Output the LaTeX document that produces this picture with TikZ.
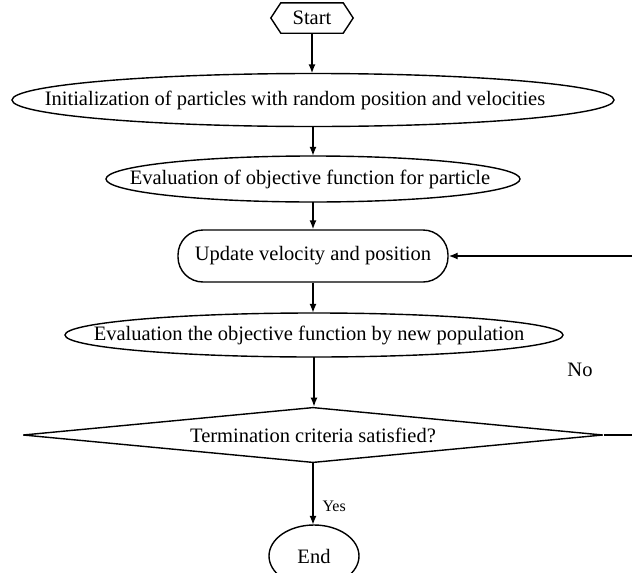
\documentclass[tikz,border=0pt]{standalone}
\usepackage{fontspec}
\setmainfont{Liberation Serif}
\usetikzlibrary{shapes.geometric,arrows.meta}
\begin{document}
\begin{tikzpicture}[x=1pt,y=-1pt,
  every node/.style={font=\fontsize{20.5}{24}\selectfont},
  line/.style={line width=1.4pt},
  arr/.style={line width=1.4pt,-{Latex[length=9pt,width=7pt]}},
  box/.style={inner sep=0pt}]
\useasboundingbox (0,0) rectangle (632,573);
% Start
\node[box,minimum width=62pt,minimum height=30pt] (start) at (312,18) {Start};
\draw[line] (start.north west) -- (start.north east) -- ([xshift=10pt]start.east) -- (start.south east) -- (start.south west) -- ([xshift=-10pt]start.west) -- cycle;
% Ovals (boxes sized as the ellipse, ellipse drawn round them)
\node[box,minimum width=602pt,minimum height=53pt] (init) at (313,100) {};
\draw[line] (init.center) ellipse [x radius=301pt, y radius=26.5pt];
\node[box] (inittext) at ([xshift=-18pt]init.center) {Initialization of particles with random position and velocities};
\node[box,minimum width=414pt,minimum height=46pt] (eval) at (313,179) {};
\draw[line] (eval.center) ellipse [x radius=207pt, y radius=23pt];
\node[box] (evaltext) at ([xshift=-3pt]eval.center) {Evaluation of objective function for particle};
\node[draw,line width=1.4pt,rounded corners=25pt,minimum width=270pt,minimum height=52pt,inner sep=0pt] (upd) at (313,256) {Update velocity and position};
\node[box,minimum width=498pt,minimum height=44pt] (evn) at (314,335) {};
\draw[line] (evn.center) ellipse [x radius=249pt, y radius=22pt];
\node[box] (evntext) at ([xshift=-5pt]evn.center) {Evaluation the objective function by new population};
\node[diamond,draw,line width=1.4pt,aspect=6.04,minimum width=580pt,inner sep=0pt] (dia) at (313,435) {Termination criteria satisfied?};
\node[box,minimum width=90pt,minimum height=62pt] (end) at (314,556) {End};
\draw[line] (end.center) ellipse [x radius=45pt, y radius=31pt];
% Labels
\node[font=\fontsize{16}{18}\selectfont,anchor=west] (yes) at (319,506) {Yes};
\node (no) at (580,370) {No};
% Connectors
\draw[arr] (start.south) -- (start.south |- init.north);
\draw[arr] (init.south) -- (eval.north);
\draw[arr] (eval.south) -- (eval.south |- upd.north);
\draw[arr] (upd.south) -- (upd.south |- evn.north);
\draw[arr] (evn.south) -- (evn.south |- dia.north);
\draw[arr] (dia.south) -- (dia.south |- end.north);
\draw[arr] (dia.east) -- ++(45,0) |- (upd.east);
\end{tikzpicture}
\end{document}
